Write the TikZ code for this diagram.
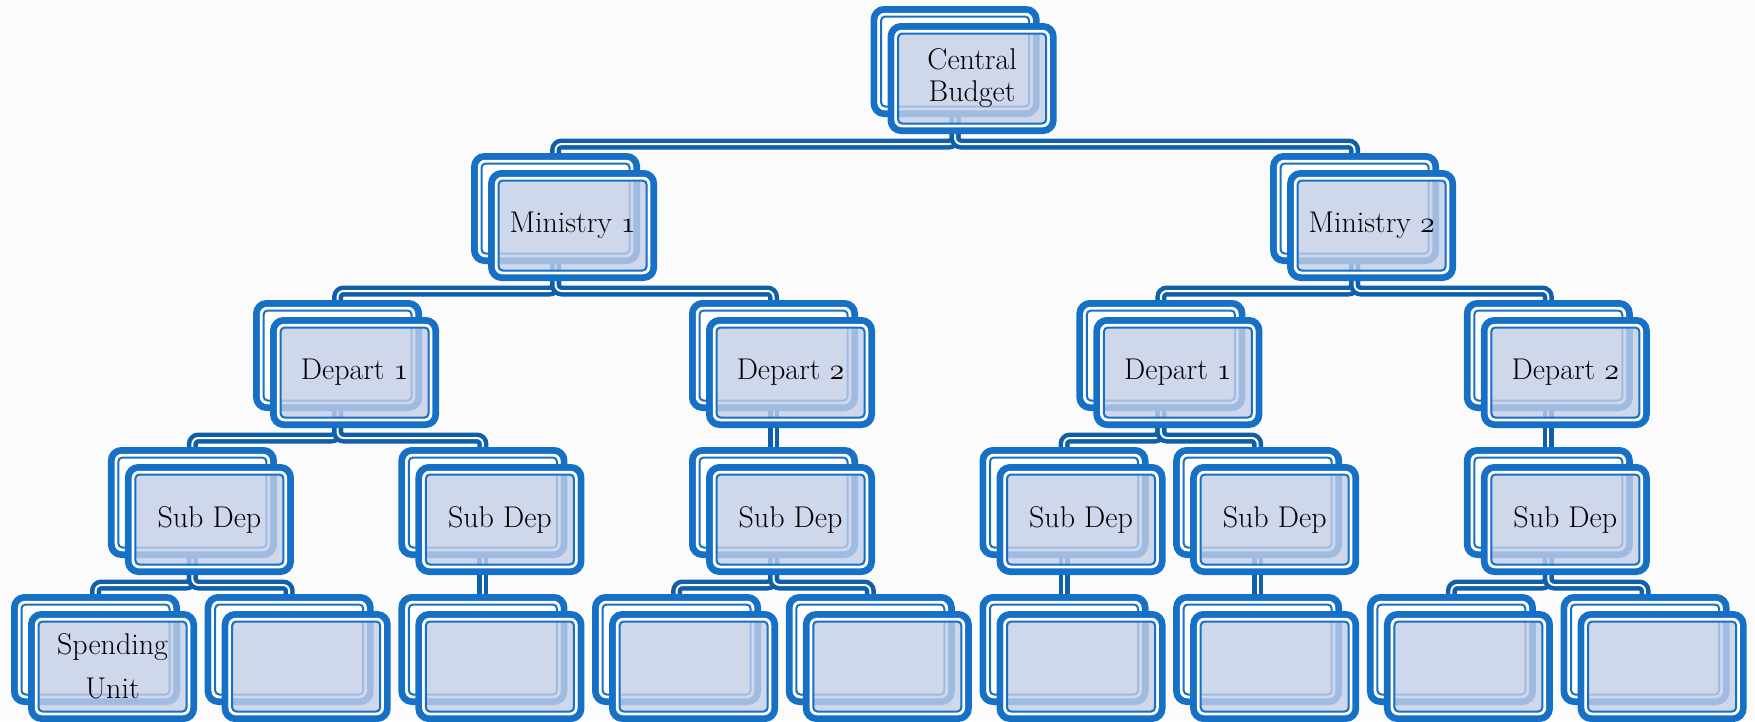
\documentclass[tikz,border=0pt]{standalone}
\usepackage{fix-cm}
\usepackage{xcolor}
\usepackage{tikz}
\usetikzlibrary{calc}

\definecolor{boxblue}{HTML}{1670C6}
\definecolor{linkblue}{HTML}{0F5FAB}
\definecolor{boxfill}{HTML}{C3CEE7}
\definecolor{paper}{HTML}{FBFBFB}

\pgfdeclarelayer{paperlayer}
\pgfdeclarelayer{linklayer}
\pgfsetlayers{paperlayer,linklayer,main}

\newcommand{\osn}[1]{$\mathnormal{#1}$}

\tikzset{
	unitback/.style={rectangle, rounded corners=10pt, draw=boxblue, line width=7pt,
		fill=white, minimum width=162pt, minimum height=104pt, inner sep=0pt, outer sep=3.5pt},
	unitfront/.style={unitback, fill=boxfill, fill opacity=0.8, text opacity=1,
		align=center, font=\fontsize{30pt}{32pt}\selectfont},
	ringgap/.style={draw=white, line width=3pt, rounded corners=6pt},
	ringline/.style={draw=boxblue, line width=2pt, rounded corners=4pt},
	link/.style={draw=linkblue, line width=4.5pt, double=white, double distance=2pt, rounded corners=6pt}
}

% back frame + front frame of one unit
\newcommand{\unitbox}[4]{%
	\node[unitback] (#1-b) at (#2-17,#3-17) {};
	\draw[ringgap] ([shift={(8.25,8.25)}]#1-b.north west) rectangle ([shift={(-8.25,-8.25)}]#1-b.south east);
	\draw[ringline] ([shift={(10.5,10.5)}]#1-b.north west) rectangle ([shift={(-10.5,-10.5)}]#1-b.south east);
	\node[unitfront] (#1) at (#2,#3) {#4};
	\draw[ringgap] ([shift={(8.25,8.25)}]#1.north west) rectangle ([shift={(-8.25,-8.25)}]#1.south east);
	\draw[ringline] ([shift={(10.5,10.5)}]#1.north west) rectangle ([shift={(-10.5,-10.5)}]#1.south east);
}

\begin{document}
\begin{tikzpicture}[x=1pt, y=-1pt]
	\useasboundingbox (0,0) rectangle (1755,721);
	\begin{pgfonlayer}{paperlayer}
		\fill[paper] (0,0) rectangle (1755,721);
	\end{pgfonlayer}

	% level 0 and 1
	\unitbox{cb}{972.1}{78.5}{Central\\Budget}
	\unitbox{m1}{572.6}{225.5}{Ministry \osn{1}}
	\unitbox{m2}{1371.6}{225.5}{Ministry \osn{2}}
	% departments
	\unitbox{d1}{354.6}{372.5}{Depart \osn{1}}
	\unitbox{d2}{790.5}{372.5}{Depart \osn{2}}
	\unitbox{d3}{1177.9}{372.5}{Depart \osn{1}}
	\unitbox{d4}{1565.3}{372.5}{Depart \osn{2}}
	% sub departments
	\unitbox{s1}{209.4}{519.5}{Sub Dep}
	\unitbox{s2}{499.9}{519.5}{Sub Dep}
	\unitbox{s3}{790.5}{519.5}{Sub Dep}
	\unitbox{s4}{1081}{519.5}{Sub Dep}
	\unitbox{s5}{1274.7}{519.5}{Sub Dep}
	\unitbox{s6}{1565.3}{519.5}{Sub Dep}
	% spending units
	\unitbox{u1}{112.5}{666.5}{Spending\\[12pt]Unit}
	\unitbox{u2}{306.2}{666.5}{}
	\unitbox{u3}{499.9}{666.5}{}
	\unitbox{u4}{693.6}{666.5}{}
	\unitbox{u5}{887.3}{666.5}{}
	\unitbox{u6}{1081}{666.5}{}
	\unitbox{u7}{1274.7}{666.5}{}
	\unitbox{u8}{1468.4}{666.5}{}
	\unitbox{u9}{1662.1}{666.5}{}

	\begin{pgfonlayer}{linklayer}
		\foreach \p/\c in {cb/m1, cb/m2, m1/d1, m1/d2, m2/d3, m2/d4, d1/s1, d1/s2,
			d3/s4, d3/s5, s1/u1, s1/u2, s3/u4, s3/u5, s6/u8, s6/u9}
		\draw[link] (\p-b.south) -- ++(0,27) -| (\c-b.north);
		\foreach \p/\c in {d2/s3, d4/s6, s2/u3, s4/u6, s5/u7}
		\draw[link] (\p-b.south) -- (\c-b.north);
	\end{pgfonlayer}
\end{tikzpicture}
\end{document}
